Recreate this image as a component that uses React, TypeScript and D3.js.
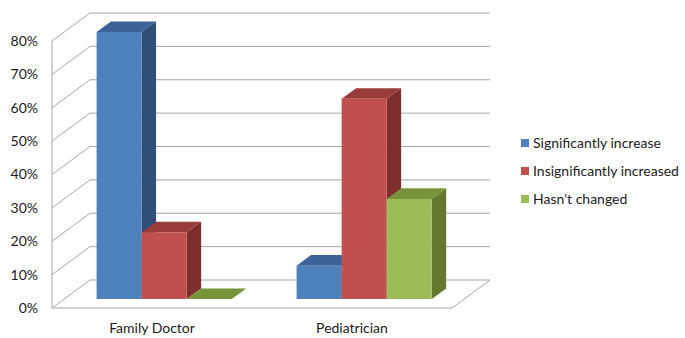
import React from "react";
import * as d3 from "d3";

const categories = ["Family Doctor", "Pediatrician"];
const seriesNames = ["Significantly increase", "Insignificantly increased", "Hasn't changed"];
const familyDoctor = [0.8, 0.2, 0.0];
const pediatrician = [0.1, 0.6, 0.3];
const yTicks = [0, 0.1, 0.2, 0.3, 0.4, 0.5, 0.6, 0.7, 0.8];

const values = [familyDoctor, pediatrician];

const faceColors = [
  { front: "#4F81BD", top: "#3B6399", side: "#2F4E78" },
  { front: "#C0504D", top: "#9A3C3A", side: "#7E2E2D" },
  { front: "#9BBB59", top: "#77933C", side: "#62792F" },
];

const W = 685;
const H = 338;

// 3D oblique projection: depth z in [0,1] shifts points right and up
const DEPTH_X = 38;
const DEPTH_Y = -28;
const proj = (x: number, y: number, z: number): [number, number] => [x + DEPTH_X * z, y + DEPTH_Y * z];

const BAR_Z0 = 0.32;
const BAR_Z1 = 0.7;

export default function App() {
  const x0 = d3.scaleBand<string>().domain(categories).range([52, 452]);
  const x1 = d3
    .scaleBand<string>()
    .domain(seriesNames)
    .range([0, x0.bandwidth()])
    .paddingInner(0)
    .paddingOuter(0.72);
  const y = d3.scaleLinear().domain([0, 0.8]).range([308, 41]);

  const poly = (pts: [number, number][]) => d3.line()(pts) + "Z";

  const floorFront = y(0);
  const [xL, xR] = x0.range();

  const gridColor = "#A6A6A6";
  const font = "Lato, 'Open Sans', sans-serif";

  return (
    <svg
      width={W}
      height={H}
      style={{ position: "absolute", left: 0, top: 0, background: "#fff" }}
      fontFamily={font}
    >
      {/* walls: back gridlines and side-wall diagonals */}
      <g fill="none" stroke={gridColor} strokeWidth={1}>
        {yTicks.map((t) => {
          const a = proj(xL, y(t), 0);
          const b = proj(xL, y(t), 1);
          const c = proj(xR, y(t), 1);
          return <path key={t} d={d3.line()([a, b, c]) || ""} />;
        })}
        <line x1={xL} y1={y(0)} x2={xL} y2={y(0.8)} />
        {/* floor */}
        <path
          d={
            d3.line()([
              proj(xL, floorFront, 0),
              proj(xR, floorFront, 0),
              proj(xR, floorFront, 1),
            ]) || ""
          }
        />
      </g>

      {/* y-axis labels */}
      <g fontSize={14} fill="#1a1a1a" textAnchor="end">
        {yTicks.map((t) => (
          <text key={t} x={38} y={y(t)} dy="0.35em">
            {d3.format(".0%")(t)}
          </text>
        ))}
      </g>

      {/* bars */}
      {categories.map((cat, ci) => (
        <g key={cat}>
          {seriesNames.map((s, si) => {
            const v = values[ci][si];
            const xa = (x0(cat) || 0) + (x1(s) || 0);
            const xb = xa + x1.bandwidth();
            const yb = y(0);
            const yt = y(v);
            const c = faceColors[si];
            const top = poly([proj(xa, yt, BAR_Z0), proj(xb, yt, BAR_Z0), proj(xb, yt, BAR_Z1), proj(xa, yt, BAR_Z1)]);
            if (v === 0) {
              return <path key={s} d={top} fill={c.top} />;
            }
            const front = poly([proj(xa, yt, BAR_Z0), proj(xb, yt, BAR_Z0), proj(xb, yb, BAR_Z0), proj(xa, yb, BAR_Z0)]);
            const side = poly([proj(xb, yt, BAR_Z0), proj(xb, yt, BAR_Z1), proj(xb, yb, BAR_Z1), proj(xb, yb, BAR_Z0)]);
            return (
              <g key={s}>
                <path d={side} fill={c.side} />
                <path d={top} fill={c.top} />
                <path d={front} fill={c.front} />
              </g>
            );
          })}
        </g>
      ))}

      {/* category labels */}
      <g fontSize={14} fill="#1a1a1a" textAnchor="middle">
        {categories.map((cat) => (
          <text key={cat} x={(x0(cat) || 0) + x0.bandwidth() / 2} y={333}>
            {cat}
          </text>
        ))}
      </g>

      {/* legend */}
      <g fontSize={14} fill="#1a1a1a">
        {seriesNames.map((s, i) => {
          const cy = 143 + i * 28;
          return (
            <g key={s}>
              <rect x={521} y={cy - 4} width={8} height={8} fill={faceColors[i].front} />
              <text x={533} y={cy} dy="0.35em">
                {s}
              </text>
            </g>
          );
        })}
      </g>
    </svg>
  );
}
